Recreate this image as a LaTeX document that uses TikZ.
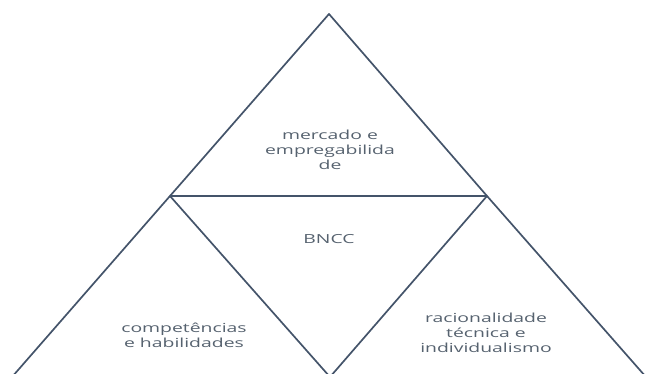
\documentclass[tikz,border=0pt]{standalone}
\usepackage{fontspec}
\setmainfont[FakeStretch=1.55]{Open Sans}
\definecolor{linec}{HTML}{44546A}
\definecolor{textc}{HTML}{56626F}
\begin{document}
\begin{tikzpicture}[x=1pt,y=-1pt,
  edge/.style={draw=linec,line width=1.7pt,line cap=round,line join=round},
  midline/.style={draw=linec,line width=1.3pt},
  lbl/.style={text=textc,align=center,font=\fontsize{12.5}{15.2}\selectfont,inner sep=0pt}]
\useasboundingbox (0,0) rectangle (646,374);
\clip (0,0) rectangle (646,374);
\coordinate (apex) at (329,14);
\coordinate (L) at (170,196);
\coordinate (R) at (487,196);
\coordinate (BL) at (12,377);
\coordinate (BR) at (646,377);
\coordinate (B) at (330,377);
\draw[edge] (apex) -- (L) -- (BL);
\draw[edge] (apex) -- (R) -- (BR);
\draw[midline] (L) -- (R);
\draw[edge] (L) -- (B) -- (R);
\node[lbl] (top) at (330,150) {mercado e\\empregabilida\\de};
\node[lbl] (mid) at (329,239) {BNCC};
\node[lbl] (left) at (184,335) {competências\\e habilidades};
\node[lbl] (right) at (486,333) {racionalidade\\técnica e\\individualismo};
\end{tikzpicture}
\end{document}
